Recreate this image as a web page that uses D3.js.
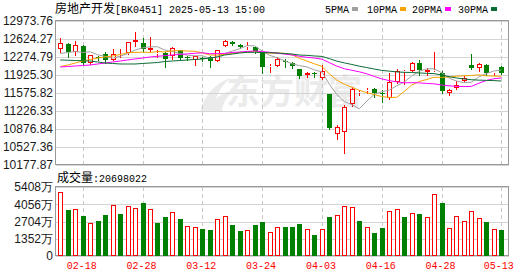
<!DOCTYPE html>
<html>
<head>
<meta charset="utf-8">
<script src="https://cdn.jsdelivr.net/npm/d3@7"></script>
<style>
  html, body { margin: 0; padding: 0; background: #fff; }
  svg { display: block; }
</style>
</head>
<body>
<div id="chart"></div>
<script>
"use strict";

// trading days, 2025
const dates = [
  "02-13", "02-14", "02-17", "02-18", "02-19", "02-20", "02-21", "02-24", "02-25", "02-26",
  "02-27", "02-28", "03-03", "03-04", "03-05", "03-06", "03-07", "03-10", "03-11", "03-12",
  "03-13", "03-14", "03-17", "03-18", "03-19", "03-20", "03-21", "03-24", "03-25", "03-26",
  "03-27", "03-28", "03-31", "04-01", "04-02", "04-03", "04-07", "04-08", "04-09", "04-10",
  "04-11", "04-14", "04-15", "04-16", "04-17", "04-18", "04-21", "04-22", "04-23", "04-24",
  "04-25", "04-28", "04-29", "04-30", "05-06", "05-07", "05-08", "05-09", "05-12", "05-13"
];
const open = [
  12430, 12521, 12378, 12488, 12158, 12270, 12335, 12222, 12320, 12355,
  12570, 12553, 12410, 12330, 12360, 12300, 12411, 12275, 12216, 12250,
  12275, 12197, 12494, 12572, 12508, 12478, 12470, 12360, 12080, 12106,
  12200, 12164, 12040, 11920, 11955, 11860, 11556, 10773, 10813, 11357,
  11575, 11620, 11648, 11585, 11472, 11789, 11985, 12009, 12152, 11978,
  12020, 11958, 11570, 11666, 11810, 12126, 12055, 12126, 11970, 12080
];
const high = [
  12644, 12540, 12585, 12508, 12308, 12290, 12365, 12436, 12424, 12570,
  12754, 12650, 12656, 12405, 12380, 12470, 12420, 12290, 12300, 12270,
  12294, 12410, 12600, 12580, 12520, 12572, 12485, 12370, 12140, 12275,
  12230, 12180, 12050, 11990, 11990, 12120, 11560, 10955, 11343, 11700,
  11634, 11680, 11680, 11640, 11958, 12035, 12030, 12180, 12216, 12061,
  12378, 12010, 11660, 11800, 11900, 12333, 12165, 12140, 11990, 12105
];
const low = [
  12378, 12281, 12314, 12133, 12146, 12215, 12165, 12210, 12281, 12330,
  12488, 12372, 12385, 12270, 12085, 12240, 12230, 12225, 12120, 12200,
  12086, 12190, 12480, 12500, 12450, 12430, 12360, 11958, 11990, 12100,
  12085, 12065, 11860, 11895, 11880, 11840, 10877, 10683, 10417, 11330,
  11538, 11570, 11500, 11410, 11453, 11770, 11760, 12000, 11925, 11920,
  12010, 11570, 11530, 11660, 11790, 12036, 12010, 11930, 11920, 11945
];
const close = [
  12540, 12366, 12508, 12158, 12308, 12250, 12210, 12340, 12335, 12560,
  12600, 12424, 12443, 12345, 12230, 12455, 12250, 12262, 12294, 12240,
  12197, 12405, 12585, 12521, 12470, 12488, 12390, 12090, 12100, 12236,
  12190, 12100, 11912, 11970, 11945, 12003, 10895, 10910, 11298, 11648,
  11590, 11640, 11570, 11560, 11795, 12012, 12000, 12164, 12015, 12025,
  12030, 11620, 11634, 11731, 11873, 12067, 12139, 11958, 11975, 11970
];
// volume in 万
const volume = [
  4991, 3606, 3658, 3136, 2561, 2744, 3214, 3972, 3292, 3893,
  3737, 4155, 3658, 2587, 3057, 3423, 2900, 2326, 2247, 2117,
  2038, 2874, 3109, 2430, 1960, 2012, 2430, 2665, 1855, 2247,
  2273, 2273, 2508, 2090, 1646, 2090, 3057, 3188, 3893, 3815,
  2744, 2247, 1803, 2195, 3554, 3658, 3057, 3345, 3292, 3031,
  4834, 4155, 2169, 3109, 2718, 3501, 2953, 2665, 2090, 2070
];

// moving-average values before the window is full
const ma5Head = [12343, 12362, 12382, 12362];
const ma10Head = [12090, 12119, 12158, 12197, 12226, 12255, 12275, 12294, 12323];
const ma20Head = [
  12081, 12090, 12100, 12110, 12119, 12139, 12158, 12178, 12197, 12217,
  12236, 12255, 12275, 12288, 12302, 12314, 12325, 12335, 12347
];
const ma30Head = [
  12217, 12212, 12207, 12202, 12197, 12178, 12158, 12149, 12139, 12139,
  12139, 12149, 12158, 12168, 12187, 12197, 12207, 12217, 12226, 12236,
  12255, 12275, 12314, 12333, 12352, 12366, 12366, 12362, 12358
];

const priceTicks = [10177.87, 10527.36, 10876.84, 11226.33, 11575.82, 11925.30, 12274.79, 12624.27, 12973.76];
const volTicks = [0, 1352, 2704, 4056, 5408];
const dateTicks = ["02-18", "02-28", "03-12", "03-24", "04-03", "04-16", "04-28", "05-13"];

const maDefs = [
  { name: "5PMA", n: 5, head: ma5Head, color: "#a0a0a0" },
  { name: "10PMA", n: 10, head: ma10Head, color: "#f5a300" },
  { name: "20PMA", n: 20, head: ma20Head, color: "#ff00ff" },
  { name: "30PMA", n: 30, head: ma30Head, color: "#0b6b35" }
];

const title = "房地产开发";
const titleRest = "[BK0451] 2025-05-13 15:00";
const volTitle = "成交量:20698022";

const UP = "#ff0000", DOWN = "#008000";
const W = 530, H = 276;
const P = { left: 56, right: 509, top: 21, bottom: 165 };
const V = { top: 187, bottom: 256 };
const MONO = "'Liberation Mono', 'DejaVu Sans Mono', monospace";
const SANS = "'Liberation Sans', Arial, sans-serif";
const CJK = "'Noto Sans CJK SC', sans-serif";

const rows = dates.map(function (d, i) {
  return { date: d, i: i, o: open[i], h: high[i], l: low[i], c: close[i], v: volume[i] };
});

maDefs.forEach(function (m) {
  m.values = close.map(function (c, i) {
    if (i < m.n - 1) return m.head[i];
    return d3.mean(close.slice(i - m.n + 1, i + 1));
  });
});

const svg = d3.select("#chart").append("svg")
  .attr("width", W)
  .attr("height", H);

const x = d3.scalePoint().domain(dates).range([60.3, 501.3]);
const y = d3.scaleLinear().domain([10177.87, 12973.76]).range([P.bottom, P.top]);
const yv = d3.scaleLinear().domain([0, 5408]).range([V.bottom, V.top]);
const px = function (d) { return Math.round(x(d)); };

// watermark
const wm = svg.append("g").attr("fill", "#ebebeb");
wm.append("path")
  .attr("d", "M200,112 C204,96 214,84 230,78 C220,88 214,98 214,110 Z M206,112 C212,100 222,92 234,90 C226,98 222,104 222,112 Z");
wm.append("text")
  .attr("x", 226).attr("y", 104)
  .attr("font-family", CJK)
  .attr("font-size", 34)
  .attr("font-weight", "bold")
  .text("东方财富");

// grid: price panel
svg.append("g")
  .selectAll("line")
  .data(priceTicks)
  .join("line")
  .attr("x1", P.left).attr("x2", P.right)
  .attr("y1", function (d) { return Math.round(y(d)) + 0.5; })
  .attr("y2", function (d) { return Math.round(y(d)) + 0.5; })
  .attr("stroke", "#d4d4d4");

svg.append("g")
  .selectAll("line")
  .data(volTicks)
  .join("line")
  .attr("x1", P.left).attr("x2", P.right)
  .attr("y1", function (d) { return Math.round(yv(d)) + 0.5; })
  .attr("y2", function (d) { return Math.round(yv(d)) + 0.5; })
  .attr("stroke", "#d4d4d4");

[[P.top, P.bottom], [V.top, V.bottom]].forEach(function (r) {
  svg.append("g")
    .selectAll("line")
    .data(dateTicks)
    .join("line")
    .attr("x1", function (d) { return px(d) + 0.5; })
    .attr("x2", function (d) { return px(d) + 0.5; })
    .attr("y1", r[0]).attr("y2", r[1])
    .attr("stroke", "#c8c8c8")
    .attr("stroke-dasharray", "4,3");
});

// frames
[[P.top, P.bottom], [V.top, V.bottom]].forEach(function (r) {
  svg.append("rect")
    .attr("x", P.left - 0.5).attr("y", r[0] - 0.5)
    .attr("width", P.right - P.left).attr("height", r[1] - r[0])
    .attr("fill", "none")
    .attr("stroke", "#999");
});

// candles
const candles = svg.append("g").selectAll("g")
  .data(rows)
  .join("g");

candles.each(function (d) {
  const g = d3.select(this);
  const cx = px(d.date) + 0.5;
  const up = d.c >= d.o;
  const col = up ? UP : DOWN;
  const yTop = Math.round(y(Math.max(d.o, d.c)));
  const yBot = Math.max(Math.round(y(Math.min(d.o, d.c))), yTop + 1);
  g.append("line")
    .attr("x1", cx).attr("x2", cx)
    .attr("y1", Math.round(y(d.h))).attr("y2", yTop)
    .attr("stroke", col);
  g.append("line")
    .attr("x1", cx).attr("x2", cx)
    .attr("y1", yBot).attr("y2", Math.round(y(d.l)) + 1)
    .attr("stroke", col);
  if (up) {
    g.append("rect")
      .attr("x", cx - 2).attr("y", yTop + 0.5)
      .attr("width", 4).attr("height", Math.max(yBot - yTop - 1, 0))
      .attr("fill", "#fff").attr("stroke", col);
  } else {
    g.append("rect")
      .attr("x", cx - 2.5).attr("y", yTop)
      .attr("width", 5).attr("height", yBot - yTop)
      .attr("fill", col);
  }
});

// moving averages
svg.append("clipPath").attr("id", "pclip")
  .append("rect")
  .attr("x", P.left).attr("y", P.top)
  .attr("width", P.right - P.left - 1).attr("height", P.bottom - P.top);

const line = d3.line()
  .x(function (d, i) { return x(dates[i]); })
  .y(function (d) { return y(d); });

svg.append("g").attr("clip-path", "url(#pclip)")
  .selectAll("path")
  .data(maDefs)
  .join("path")
  .attr("d", function (m) { return line(m.values); })
  .attr("fill", "none")
  .attr("stroke", function (m) { return m.color; })
  .attr("stroke-width", 1);

// volume bars: colour follows close vs previous close
svg.append("g").selectAll("rect")
  .data(rows)
  .join("rect")
  .each(function (d) {
    const up = d.i === 0 ? d.c >= d.o : d.c >= close[d.i - 1];
    const cx = px(d.date) + 0.5;
    const top = Math.round(yv(d.v));
    const r = d3.select(this);
    if (up) {
      r.attr("x", cx - 2).attr("y", top + 0.5)
        .attr("width", 4).attr("height", V.bottom - top - 1)
        .attr("fill", "#fff").attr("stroke", UP);
    } else {
      r.attr("x", cx - 2.5).attr("y", top)
        .attr("width", 5).attr("height", V.bottom - top)
        .attr("fill", DOWN);
    }
  });

// axes
const yAxis = svg.append("g")
  .attr("transform", "translate(" + P.left + ",0)")
  .call(d3.axisLeft(y).tickValues(priceTicks).tickSize(0).tickPadding(3).tickFormat(d3.format(".2f")));
yAxis.select(".domain").remove();
yAxis.selectAll("text")
  .attr("font-family", SANS).attr("font-size", 12).attr("fill", "#1a1a1a");

const vAxis = svg.append("g")
  .attr("transform", "translate(" + P.left + ",0)")
  .call(d3.axisLeft(yv).tickValues(volTicks).tickSize(0).tickPadding(3)
    .tickFormat(function (d) { return d === 0 ? "0" : d + "万"; }));
vAxis.select(".domain").remove();
vAxis.selectAll("text")
  .attr("font-family", SANS).attr("font-size", 12).attr("fill", "#1a1a1a");

const xAxis = svg.append("g")
  .attr("transform", "translate(0," + V.bottom + ")")
  .call(d3.axisBottom(x).tickValues(dateTicks).tickSize(0).tickPadding(6));
xAxis.select(".domain").remove();
xAxis.selectAll("text")
  .attr("font-family", MONO).attr("font-size", 10).attr("fill", UP)
  .attr("dx", function (d) { return d === "05-13" ? -3 : -1.5; });

// title
const t = svg.append("text")
  .attr("x", P.left - 1).attr("y", 13)
  .attr("font-size", 12).attr("fill", "#000");
t.append("tspan").attr("font-family", CJK).text(title);
t.append("tspan").attr("font-family", MONO).attr("font-size", 10).text(titleRest);

svg.append("text")
  .attr("x", P.left + 1).attr("y", 182)
  .attr("font-size", 12).attr("fill", "#000")
  .call(function (s) {
    s.append("tspan").attr("font-family", CJK).text(volTitle.slice(0, 3));
    s.append("tspan").attr("font-family", MONO).attr("font-size", 10).text(volTitle.slice(3));
  });

// legend
const legendX = [325, 367, 412, 458];
const lg = svg.append("g").selectAll("g")
  .data(maDefs)
  .join("g")
  .attr("transform", function (m, i) { return "translate(" + legendX[i] + ",0)"; });
lg.append("text")
  .attr("y", 13)
  .attr("font-family", MONO).attr("font-size", 10).attr("fill", "#000")
  .text(function (m) { return m.name; });
lg.append("rect")
  .attr("x", function (m) { return m.name.length * 6 + 3; })
  .attr("y", 7)
  .attr("width", 6).attr("height", 4)
  .attr("fill", function (m) { return m.color; });
</script>
</body>
</html>
